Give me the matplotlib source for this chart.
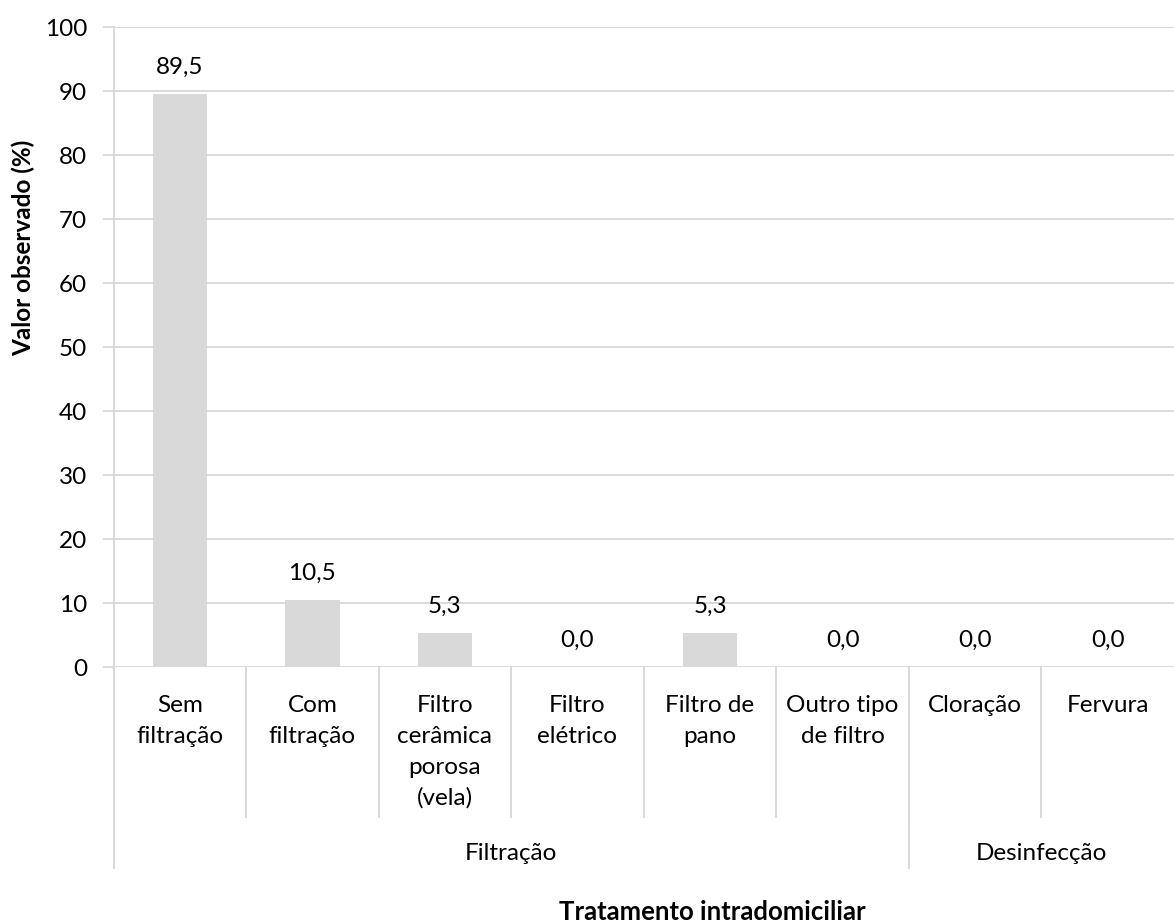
import matplotlib
matplotlib.use("Agg")
import matplotlib.pyplot as plt
import matplotlib.transforms as mtransforms

plt.rcParams['font.family'] = ['Lato', 'DejaVu Sans']

categories = ["Sem\nfiltração", "Com\nfiltração", "Filtro\ncerâmica\nporosa\n(vela)",
              "Filtro\nelétrico", "Filtro de\npano", "Outro tipo\nde filtro",
              "Cloração", "Fervura"]
values = [89.5, 10.5, 5.3, 0.0, 5.3, 0.0, 0.0, 0.0]
groups = ["Filtração", "Desinfecção"]
group_sizes = [6, 2]
yticks = [0, 10, 20, 30, 40, 50, 60, 70, 80, 90, 100]

W, H = 1174, 922
fig = plt.figure(figsize=(W / 100, H / 100), dpi=100)
AX_L, AX_R, AX_T, AX_B = 113.5, 1174, 27, 667
ax = fig.add_axes([AX_L / W, 1 - AX_B / H, (AX_R - AX_L) / W, (AX_B - AX_T) / H])

grid_c = "#d9d9d9"
lw = 1.4
fs = 17.5
x = list(range(len(categories)))
ax.bar(x, values, width=0.41, color=grid_c, zorder=2)
for xi, v in zip(x, values):
    ax.annotate(f"{v:.1f}".replace(".", ","), (xi, v), xytext=(0, 14.5),
                textcoords="offset points", ha="center", va="baseline",
                fontsize=fs, color="#000000")

ax.set_xlim(-0.5, len(categories) - 0.5)
ax.set_ylim(0, 100)
ax.set_yticks(yticks)
ax.set_yticklabels([str(t) for t in yticks], fontsize=fs)
ax.yaxis.grid(True, color=grid_c, lw=lw, zorder=0)
ax.tick_params(axis="y", length=0, pad=19)
ax.set_xticks([])
for s in ["top", "right", "bottom"]:
    ax.spines[s].set_visible(False)
ax.spines["left"].set_color(grid_c)
ax.spines["left"].set_linewidth(lw)

# outward tick marks on the value axis
trans_y = mtransforms.blended_transform_factory(fig.transFigure, ax.transData)
for t in yticks:
    ax.plot([104 / W, AX_L / W], [t, t], transform=trans_y, color=grid_c, lw=lw,
            clip_on=False, zorder=1)

# multi-level category axis
trans = mtransforms.blended_transform_factory(ax.transData, ax.transAxes)
def fy(py):
    return (AX_B - py) / (AX_B - AX_T)

for i, cat in enumerate(categories):
    for k, line in enumerate(cat.split("\n")):
        ax.text(i, fy(712 + 31 * k), line, transform=trans, ha="center",
                va="baseline", fontsize=fs, clip_on=False)
for i in range(1, len(categories)):
    ax.plot([i - 0.5, i - 0.5], [0, fy(817)], transform=trans, color=grid_c,
            lw=lw, clip_on=False)

start = 0
bounds = [-0.5]
for g, n in zip(groups, group_sizes):
    center = start + (n - 1) / 2
    ax.text(center, fy(860), g, transform=trans, ha="center", va="baseline",
            fontsize=fs, clip_on=False)
    start += n
    bounds.append(start - 0.5)
for b in bounds[:-1]:
    ax.plot([b, b], [0, fy(868)], transform=trans, color=grid_c, lw=lw,
            clip_on=False)

fig.text(23 / W, 1 - 248 / H, "Valor observado (%)", rotation=90,
         ha="center", va="center", fontsize=fs, fontweight="bold")
fig.text(712 / W, 1 - 920 / H, "Tratamento intradomiciliar",
         ha="center", va="baseline", fontsize=18.5, fontweight="bold")

fig.savefig("out.png", dpi=100)
